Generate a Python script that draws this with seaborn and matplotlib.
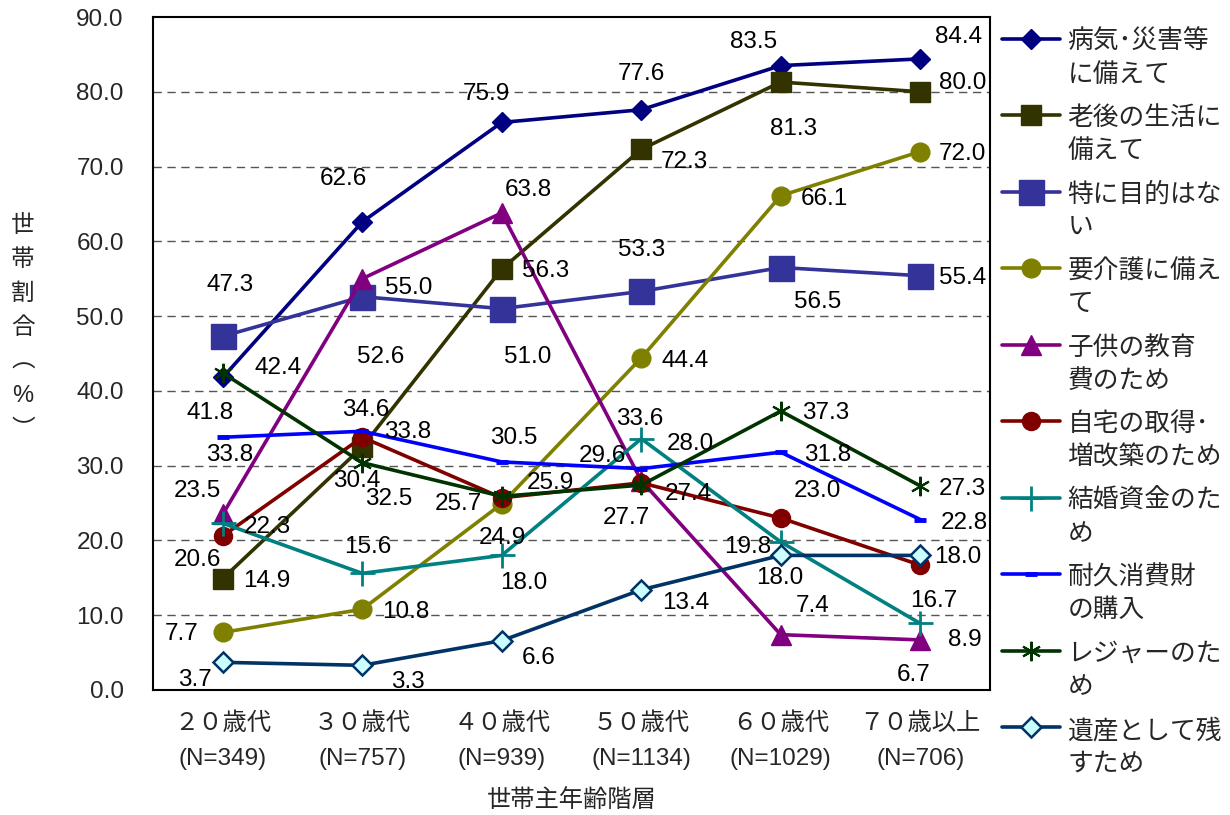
import matplotlib
matplotlib.use("Agg")
import matplotlib.pyplot as plt
import numpy as np
import pandas as pd
import seaborn as sns
from matplotlib.ticker import FixedLocator

# ---- data -----------------------------------------------------------------
age_groups = ["２０歳代\n(N=349)", "３０歳代\n(N=757)", "４０歳代\n(N=939)",
              "５０歳代\n(N=1134)", "６０歳代\n(N=1029)", "７０歳以上\n(N=706)"]

series_names = [
    "病気･災害等\nに備えて",
    "老後の生活に\n備えて",
    "特に目的はな\nい",
    "要介護に備え\nて",
    "子供の教育\n費のため",
    "自宅の取得･\n増改築のため",
    "結婚資金のた\nめ",
    "耐久消費財\nの購入",
    "レジャーのた\nめ",
    "遺産として残\nすため",
]

illness = [41.8, 62.6, 75.9, 77.6, 83.5, 84.4]
old_age = [14.9, 32.5, 56.3, 72.3, 81.3, 80.0]
no_purpose = [47.3, 52.6, 51.0, 53.3, 56.5, 55.4]
nursing = [7.7, 10.8, 24.9, 44.4, 66.1, 72.0]
education = [23.5, 55.0, 63.8, 28.0, 7.4, 6.7]
housing = [20.6, 33.8, 25.7, 27.7, 23.0, 16.7]
wedding = [22.3, 15.6, 18.0, 33.6, 19.8, 8.9]
durables = [33.8, 34.6, 30.5, 29.6, 31.8, 22.8]
leisure = [42.4, 30.4, 25.9, 27.4, 37.3, 27.3]
inheritance = [3.7, 3.3, 6.6, 13.4, 18.0, 18.0]

all_values = [illness, old_age, no_purpose, nursing, education,
              housing, wedding, durables, leisure, inheritance]

# ---- styles ---------------------------------------------------------------
styles = [
    dict(color="#000080", marker="D", ms=10, mfc="#000080", mec="#000080", mew=1),
    dict(color="#333300", marker="s", ms=14, mfc="#333300", mec="#333300", mew=1),
    dict(color="#333399", marker="s", ms=18, mfc="#333399", mec="#333399", mew=1),
    dict(color="#808000", marker="o", ms=13.5, mfc="#808000", mec="#808000", mew=1),
    dict(color="#800080", marker="^", ms=15, mfc="#800080", mec="#800080", mew=1),
    dict(color="#800000", marker="o", ms=13, mfc="#800000", mec="#800000", mew=1),
    dict(color="#008080", marker="+", ms=18, mfc="#008080", mec="#008080", mew=2),
    dict(color="#0000FF", marker="_", ms=9, mfc="#0000FF", mec="#0000FF", mew=3.5),
    dict(color="#003300", marker=(6, 2, 0), ms=14, mfc="#003300", mec="#003300", mew=1.5),
    dict(color="#003366", marker="D", ms=10, mfc="#CCFFFF", mec="#003366", mew=1.8),
]

# label offsets in pixels (dx right, dy down) from each point
label_offsets = [
    [(-13, 36), (-19, -43), (-15, -28), (0, -36), (-27, -24), (38, -22)],
    [(44, 2), (26, 52), (44, 2), (43, 13), (13, 47), (42, -9)],
    [(7, -51), (18, 60), (26, 48), (0, -41), (37, 34), (42, 2)],
    [(-41, 2), (43, 3), (1, 34), (44, 3), (44, 3), (42, 2)],
    [(-25, -23), (46, 9), (27, -23), (49, -37), (32, -29), (-7, 35)],
    [(-25, 24), (45, -5), (-43, 6), (-15, 35), (37, -27), (13, 36)],
    [(45, 4), (6, -26), (22, 28), (-2, -20), (-33, 5), (45, 17)],
    [(7, 18), (3, -21), (12, -24), (-39, -13), (47, 3), (44, 3)],
    [(55, -5), (-6, 18), (49, -13), (47, 9), (45, 2), (42, 3)],
    [(-28, 18), (46, 17), (37, 17), (44, 13), (-1, 23), (38, 2)],
]

sns.set_style("white")
plt.rcParams["font.family"] = ["Liberation Sans", "Noto Sans CJK JP"]

fig = plt.figure(figsize=(12.3, 8.15), dpi=100)
ax = fig.add_axes([153 / 1230, 1 - 690 / 815, 837 / 1230, 673 / 815])

pos = np.arange(len(age_groups))
for name, vals, st in zip(series_names, all_values, styles):
    df = pd.DataFrame({"pos": pos, "value": vals})
    sns.lineplot(data=df, x="pos", y="value", ax=ax, label=name,
                 color=st["color"], lw=2.6, marker=st["marker"],
                 markersize=st["ms"], markerfacecolor=st["mfc"],
                 markeredgecolor=st["mec"], markeredgewidth=st["mew"])

for vals, offs in zip(all_values, label_offsets):
    for i, v in enumerate(vals):
        dx, dy = offs[i]
        ax.annotate(f"{v:.1f}", (pos[i], v), xytext=(dx, -dy),
                    textcoords="offset pixels", ha="center", va="center",
                    fontsize=17.5, color="black", zorder=10)

ax.set_xlim(-0.5, len(age_groups) - 0.5)
ax.set_ylim(0, 90)
ax.set_yticks(np.arange(0, 91, 10))
ax.set_yticklabels([f"{t:.1f}" for t in np.arange(0, 91, 10)], fontsize=17.5)
ax.tick_params(axis="y", length=0, pad=21)
ax.set_xticks(pos)
ax.set_xticklabels(age_groups, fontsize=17.5, linespacing=1.75)
ax.xaxis.set_minor_locator(FixedLocator(np.arange(0.5, len(age_groups) - 1, 1)))
ax.tick_params(axis="x", which="major", length=0, pad=16)
ax.tick_params(axis="x", which="minor", direction="in", length=7, width=1, color="black")

for y in range(10, 90, 10):
    ax.axhline(y, color="#555555", lw=1, ls=(0, (6, 4)), zorder=0)

for sp in ax.spines.values():
    sp.set_visible(True)
    sp.set_color("black")
    sp.set_linewidth(1.5)

ax.set_xlabel("世帯主年齢階層", fontsize=17.5, labelpad=14)
ax.set_ylabel("")

fig.text(23 / 1230, 1 - 328 / 815, "世\n帯\n割\n合\n︵\n%\n︶", fontsize=17,
         ha="center", va="center", linespacing=1.7)

handles, labels = ax.get_legend_handles_labels()
leg = ax.legend(handles, labels, loc="upper left",
                bbox_to_anchor=(1002 / 1230, 1 - 30 / 815),
                bbox_transform=fig.transFigure, frameon=False, fontsize=18.5,
                borderaxespad=0, borderpad=0, handlelength=2.25,
                handletextpad=0.3, labelspacing=0.77)
for t in leg.get_texts():
    t.set_linespacing(1.45)
for col in leg._legend_handle_box.get_children():
    for row in col.get_children():
        row.align = "top"

fig.savefig("out.png", dpi=100)
